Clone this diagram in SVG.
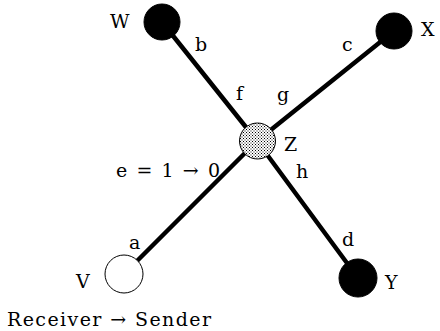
<svg xmlns="http://www.w3.org/2000/svg" width="440" height="331" viewBox="0 0 440 331">
<style>
.lbl{font-family:"DejaVu Serif","Liberation Serif",serif;font-size:19px;fill:#000}
.edge{stroke:#000;stroke-width:4.5;stroke-linecap:round;fill:none}
.solid{fill:#000;stroke:#000;stroke-width:1}
</style>
<defs>
<pattern id="dots" width="3" height="3" patternUnits="userSpaceOnUse">
<rect width="3" height="3" fill="#fff"/>
<rect x="0" y="0" width="1" height="1" fill="#000"/>
<rect x="1.5" y="1.5" width="1" height="1" fill="#000"/>
</pattern>
</defs>
<rect width="440" height="331" fill="#fff"/>
<g id="connectors">
<line class="edge" x1="162" y1="22" x2="257" y2="141"/>
<line class="edge" x1="257" y1="141" x2="358" y2="278"/>
<line class="edge" x1="394" y1="31" x2="257" y2="141"/>
<line class="edge" x1="257" y1="141" x2="124" y2="274"/>
<text class="lbl" x="195" y="51">b</text>
<text class="lbl" x="342" y="51">c</text>
<text class="lbl" x="236" y="100">f</text>
<text class="lbl" x="277" y="101">g</text>
<text class="lbl" x="296" y="178">h</text>
<text class="lbl" x="342" y="246">d</text>
<text class="lbl" x="129" y="249">a</text>
<text class="lbl" x="116" y="177" textLength="104" lengthAdjust="spacing">e = 1 → 0</text>
</g>
<g id="W"><circle class="solid" cx="162" cy="22" r="18"/><text class="lbl" x="110" y="28">W</text></g>
<g id="X"><circle class="solid" cx="394" cy="31" r="18"/><text class="lbl" x="421" y="36">X</text></g>
<g id="Z"><circle cx="257.5" cy="141" r="18" fill="url(#dots)" stroke="#000" stroke-width="1"/><text class="lbl" x="284" y="151">Z</text></g>
<g id="Y"><circle class="solid" cx="358" cy="278" r="19"/><text class="lbl" x="385" y="289">Y</text></g>
<g id="V"><circle cx="124" cy="274" r="19" fill="#fff" stroke="#000" stroke-width="1"/><text class="lbl" x="76" y="288">V</text></g>
<text class="lbl" x="7" y="326" textLength="204" lengthAdjust="spacing">Receiver → Sender</text>
</svg>
